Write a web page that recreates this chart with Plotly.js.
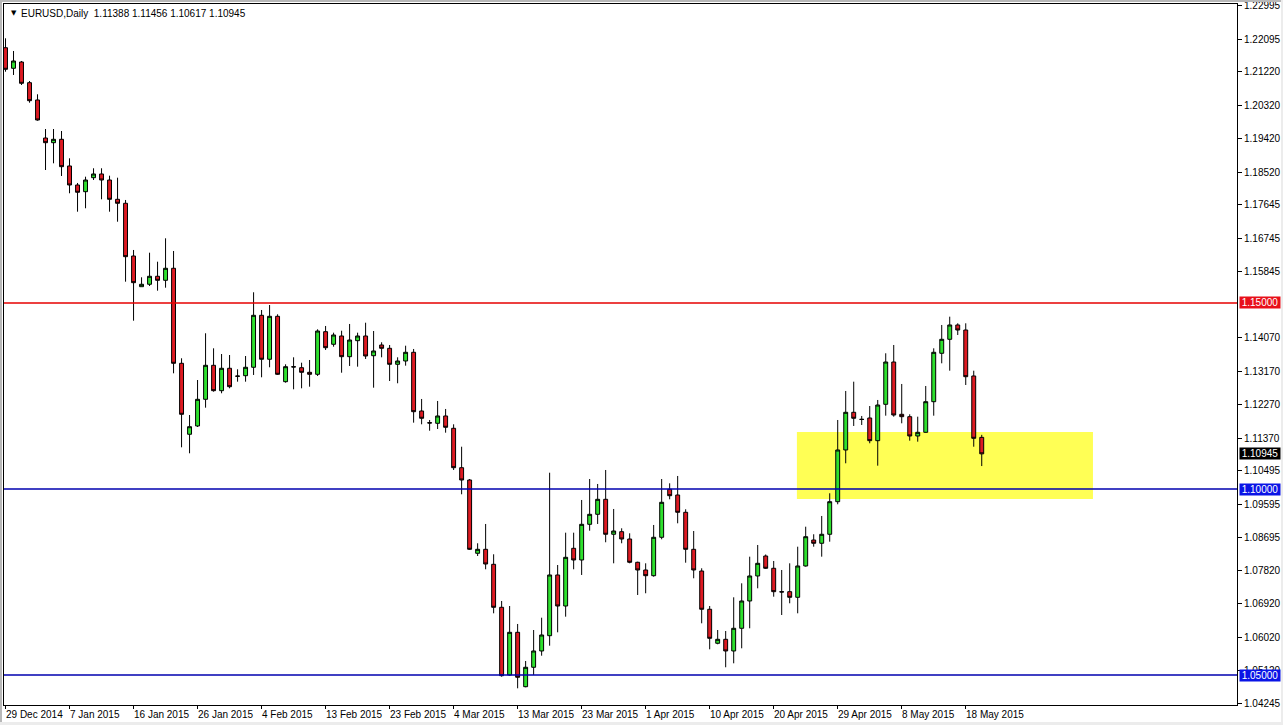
<!DOCTYPE html>
<html>
<head>
<meta charset="utf-8">
<script src="https://cdn.plot.ly/plotly-3.0.1.min.js"></script>
<style>
  html, body { margin: 0; padding: 0; background: #ffffff; }
  #chart { width: 1283px; height: 725px; position: relative; }
  .frame { position: absolute; pointer-events: none; }
</style>
</head>
<body>
<div id="chart"></div>
<div class="frame" style="left:0;top:0;width:2px;height:725px;background:#b8b8b8;"></div>
<div class="frame" style="left:0;top:0;width:1283px;height:2px;background:#b8b8b8;"></div>
<div class="frame" style="left:0;top:722px;width:1283px;height:3px;background:#ececec;"></div>
<div class="frame" style="left:1281px;top:0;width:2px;height:725px;background:#ececec;"></div>
<script>
// ---- Data (EURUSD Daily, one bar per trading session incl. Sunday sessions) ----
const symbolName = 'EURUSD,Daily';

const dateLabels = ['29 Dec 2014','7 Jan 2015','16 Jan 2015','26 Jan 2015','4 Feb 2015','13 Feb 2015',
  '23 Feb 2015','4 Mar 2015','13 Mar 2015','23 Mar 2015','1 Apr 2015','10 Apr 2015','20 Apr 2015',
  '29 Apr 2015','8 May 2015','18 May 2015'];
const barsPerLabel = 8;

const openP = [
1.21862,1.21309,1.21478,1.20922,1.20457,1.19435,1.19309,1.19400,1.18683,1.18172,
1.17992,1.18368,1.18468,1.18306,1.17787,1.17680,1.16263,1.15438,1.15503,1.15718,
1.15610,1.15933,1.13379,1.11471,1.11694,1.12411,1.13325,1.12643,1.13245,1.13038,
1.13046,1.13272,1.14669,1.13487,1.14642,1.12885,1.13288,1.13261,1.13137,1.13083,
1.14229,1.13890,1.14113,1.13557,1.13987,1.14113,1.13583,1.13871,1.13782,1.13352,
1.13441,1.13675,1.12097,1.11783,1.11766,1.11963,1.11632,1.10573,1.10242,1.08272,
1.08379,1.07976,1.06820,1.05001,1.06148,1.04686,1.05208,1.05646,1.06057,1.07689,
1.06855,1.08406,1.08092,1.09051,1.09320,1.09723,1.08783,1.08853,1.08656,1.08030,
1.07823,1.07670,1.08702,1.09992,1.09839,1.09374,1.08379,1.07796,1.06767,1.05853,
1.05960,1.05646,1.06256,1.06990,1.07662,1.08199,1.07869,1.07240,1.07240,1.07089,
1.07931,1.08629,1.08541,1.08783,1.09659,1.11049,1.12062,1.11874,1.11909,1.11299,
1.12277,1.13414,1.12008,1.11944,1.11425,1.11524,1.12347,1.13648,1.14024,1.14409,
1.14274,1.13038,1.11388];

const highP = [
1.22115,1.21774,1.21505,1.20967,1.20610,1.19677,1.19677,1.19623,1.18889,1.18226,
1.18395,1.18621,1.18621,1.18422,1.18368,1.17769,1.16425,1.15691,1.16352,1.16110,
1.16739,1.16398,1.13514,1.11989,1.12930,1.14186,1.13782,1.13629,1.13602,1.13218,
1.13575,1.15288,1.14812,1.14946,1.14696,1.13352,1.13540,1.13395,1.13468,1.14293,
1.14382,1.14202,1.14255,1.14436,1.14202,1.14470,1.14247,1.13944,1.13871,1.13540,
1.13852,1.13764,1.12420,1.11855,1.12366,1.12151,1.11739,1.11137,1.10269,1.08541,
1.09060,1.08245,1.06990,1.06855,1.06372,1.05377,1.06210,1.06541,1.10438,1.07957,
1.08826,1.08826,1.09705,1.10269,1.10135,1.10511,1.09463,1.08944,1.08809,1.08046,
1.08003,1.09033,1.10269,1.10153,1.10350,1.09455,1.08871,1.07869,1.06855,1.06210,
1.06183,1.07089,1.07465,1.08181,1.08495,1.08240,1.08065,1.07823,1.08003,1.08449,
1.08987,1.08783,1.09275,1.09885,1.11855,1.12635,1.12885,1.11963,1.12231,1.12393,
1.13648,1.13871,1.12823,1.12008,1.11944,1.12769,1.13782,1.14409,1.14632,1.14454,
1.14454,1.13180,1.11456];

const lowP = [
1.21217,1.21129,1.20860,1.20384,1.19900,1.18575,1.18755,1.18414,1.17949,1.17454,
1.17546,1.18306,1.17787,1.17454,1.17185,1.15573,1.14524,1.15438,1.15457,1.15331,
1.15411,1.13110,1.11121,1.10960,1.11667,1.12186,1.12616,1.12573,1.12707,1.12885,
1.12885,1.13065,1.13003,1.13272,1.13065,1.12858,1.12680,1.12707,1.12750,1.13038,
1.13737,1.13825,1.13126,1.13307,1.13288,1.13495,1.12723,1.13540,1.12903,1.12842,
1.13315,1.11783,1.11739,1.11567,1.11613,1.11514,1.10511,1.09858,1.08361,1.08199,
1.07842,1.06659,1.04955,1.04982,1.04643,1.04670,1.05001,1.05519,1.05788,1.06148,
1.06568,1.07842,1.07689,1.08879,1.09060,1.08568,1.08003,1.08541,1.08003,1.07151,
1.07197,1.07643,1.08648,1.09723,1.09078,1.08019,1.07600,1.06390,1.05691,1.05826,
1.05208,1.05315,1.05718,1.06256,1.07331,1.07850,1.07105,1.06613,1.06928,1.06659,
1.07913,1.08449,1.08181,1.08584,1.09589,1.10691,1.11694,1.11721,1.11229,1.10627,
1.11971,1.11944,1.11766,1.11299,1.11272,1.11514,1.11971,1.13379,1.13180,1.14140,
1.12796,1.11137,1.10617];

const closeP = [
1.21282,1.21505,1.20905,1.20438,1.19919,1.19309,1.19400,1.18664,1.18172,1.17976,
1.18306,1.18468,1.18306,1.17787,1.17680,1.16245,1.15546,1.15503,1.15718,1.15610,
1.15933,1.13379,1.12008,1.11675,1.12411,1.13325,1.12643,1.13245,1.12750,1.13030,
1.13272,1.14669,1.13487,1.14642,1.13083,1.13288,1.13280,1.13137,1.13083,1.14247,
1.13798,1.14140,1.13557,1.14005,1.14113,1.13575,1.13710,1.13782,1.13352,1.13441,
1.13675,1.12078,1.11901,1.11774,1.11963,1.11659,1.10573,1.10242,1.08379,1.08379,
1.07984,1.06820,1.04982,1.06148,1.04939,1.05208,1.05646,1.06076,1.07689,1.06855,
1.08164,1.08092,1.09051,1.09320,1.09723,1.08783,1.08871,1.08656,1.08030,1.07823,
1.07670,1.08702,1.09643,1.09820,1.09374,1.08379,1.07823,1.06767,1.05987,1.05960,
1.05646,1.06256,1.06990,1.07662,1.08003,1.07869,1.07240,1.07232,1.07089,1.07931,
1.08718,1.08541,1.08783,1.09659,1.11049,1.12062,1.11901,1.11870,1.11299,1.12258,
1.13414,1.11989,1.11944,1.11425,1.11524,1.12347,1.13675,1.14024,1.14409,1.14274,
1.13019,1.11363,1.10945];

// price-axis tick labels shown by the terminal
const priceTicks = [1.22995,1.22095,1.21220,1.20320,1.19420,1.18520,1.17645,1.16745,1.15845,
  1.14070,1.13170,1.12270,1.11370,1.10495,1.09595,1.08695,1.07820,1.06920,1.06020,1.05120,1.04245];

// horizontal levels drawn on the chart
const levelPrices = [1.15000, 1.10000, 1.05000];
const levelColors = ['rgb(230,0,0)', 'rgb(0,0,175)', 'rgb(0,0,175)'];
const levelLabelBg = ['rgb(232,16,26)', 'rgb(10,20,230)', 'rgb(10,20,230)'];

// highlighted support zone (bar index span and price span)
const zoneBars = [98.9, 135.9];
const zonePrices = [1.09732, 1.11532];

// ---- Build chart ----
const idx = openP.map((_, i) => i);
const last = openP.length - 1;
const FONT = 'Liberation Sans, Arial, sans-serif';
const xRange = [-0.19, 153.9];

const traces = [];
// level lines as line traces spanning the visible time range
levelPrices.forEach((p, i) => {
  traces.push({
    type: 'scatter', mode: 'lines',
    x: [xRange[0] - 1, xRange[1] + 1], y: [p, p],
    line: { color: levelColors[i], width: 1.5 },
    hoverinfo: 'none', showlegend: false, cliponaxis: true
  });
});
traces.push({
  type: 'candlestick',
  x: idx,
  open: openP, high: highP, low: lowP, close: closeP,
  increasing: { line: { color: '#000000', width: 1 }, fillcolor: '#2ee02e' },
  decreasing: { line: { color: '#000000', width: 1 }, fillcolor: '#dd1a22' },
  whiskerwidth: 0,
  hoverinfo: 'none',
  showlegend: false
});

const shapes = [{
  type: 'rect', xref: 'x', yref: 'y', layer: 'below',
  x0: zoneBars[0], x1: zoneBars[1], y0: zonePrices[0], y1: zonePrices[1],
  fillcolor: '#ffff55', line: { width: 0 }
}];

const annotations = [];
// date labels, left-aligned at their bar like the terminal's time scale
dateLabels.forEach((d, i) => {
  annotations.push({
    xref: 'x', yref: 'paper', x: i * barsPerLabel, y: 0,
    xanchor: 'left', yanchor: 'top', xshift: -2, yshift: -2,
    text: d, showarrow: false,
    font: { family: FONT, size: 10, color: '#000000' }
  });
});
levelPrices.forEach((p, i) => {
  annotations.push({
    xref: 'paper', yref: 'y', x: 1, y: p, xanchor: 'left', yanchor: 'middle', xshift: 2,
    text: p.toFixed(5), showarrow: false, bgcolor: levelLabelBg[i], borderpad: 0,
    width: 40, height: 11, align: 'center',
    font: { family: FONT, size: 10, color: '#ffffff' }
  });
});
// current close price label
annotations.push({
  xref: 'paper', yref: 'y', x: 1, y: closeP[last], xanchor: 'left', yanchor: 'middle', xshift: 2,
  text: closeP[last].toFixed(5), showarrow: false, bgcolor: '#000000', borderpad: 0,
  width: 40, height: 11, align: 'center',
  font: { family: FONT, size: 10, color: '#ffffff' }
});
// header
annotations.push({
  xref: 'paper', yref: 'paper', x: 0, y: 1, xanchor: 'left', yanchor: 'middle',
  xshift: 5, yshift: -9, showarrow: false, text: '\u25BC',
  font: { family: 'DejaVu Sans, sans-serif', size: 7, color: '#000000' }
});
annotations.push({
  xref: 'paper', yref: 'paper', x: 0, y: 1, xanchor: 'left', yanchor: 'middle',
  xshift: 15, yshift: -9, showarrow: false,
  text: symbolName + '  ' + [openP[last], highP[last], lowP[last], closeP[last]].map(v => v.toFixed(5)).join(' '),
  font: { family: FONT, size: 10, color: '#000000' }
});

const layout = {
  width: 1283, height: 725,
  margin: { l: 4, r: 46, t: 4, b: 20, pad: 0 },
  paper_bgcolor: '#ffffff', plot_bgcolor: '#ffffff',
  showlegend: false,
  dragmode: false,
  xaxis: {
    type: 'linear',
    range: xRange,
    rangeslider: { visible: false },
    showgrid: false, zeroline: false,
    showline: true, mirror: true, linecolor: '#000000', linewidth: 1,
    tickvals: dateLabels.map((_, i) => i * barsPerLabel),
    showticklabels: false,
    ticks: 'outside', ticklen: 3, tickcolor: '#000000', tickwidth: 1
  },
  yaxis: {
    side: 'right',
    range: [1.04194, 1.23037],
    showgrid: false, zeroline: false,
    showline: true, mirror: true, linecolor: '#000000', linewidth: 1,
    tickvals: priceTicks,
    ticktext: priceTicks.map(v => v.toFixed(5)),
    ticks: 'outside', ticklen: 4, tickcolor: '#000000', tickwidth: 1,
    tickfont: { family: FONT, size: 10, color: '#000000' }
  },
  shapes: shapes,
  annotations: annotations
};

Plotly.newPlot('chart', traces, layout, { staticPlot: true, displayModeBar: false });
</script>
</body>
</html>
